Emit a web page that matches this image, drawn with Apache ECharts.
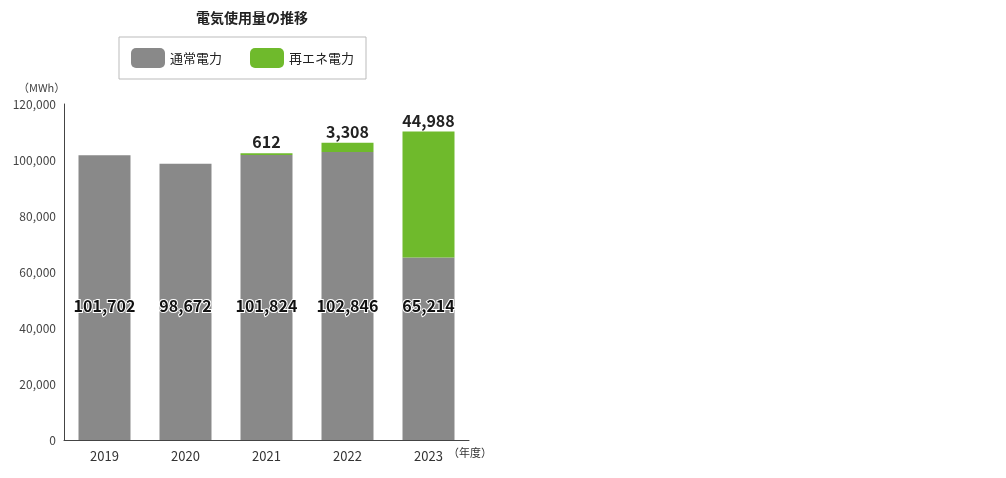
<!DOCTYPE html><html><head><meta charset="utf-8"><script src="https://cdn.jsdelivr.net/npm/echarts@6/dist/echarts.min.js"></script></head><body style="margin:0"><div id="c" style="width:1006px;height:478px"></div><script>
const categories=['2019','2020','2021','2022','2023'];
const normal=[101702,98672,101824,102846,65214];
const renewable=[null,null,612,3308,44988];
const yTicks=[0,20000,40000,60000,80000,100000,120000];
const F='"Noto Sans CJK JP","Noto Sans",sans-serif';
const fmt=v=>v.toLocaleString('en-US');
const c=echarts.init(document.getElementById('c'));
c.setOption({
 animation:false,
 title:{text:'電気使用量の推移',left:247,textAlign:'center',top:6,textStyle:{fontFamily:F,fontSize:14,fontWeight:'bold',color:'#222'}},
 legend:{left:119,top:37,width:254,height:42,padding:[11,12,11,12],itemGap:28,borderColor:'#bbb',borderWidth:1,itemWidth:34,itemHeight:20,textStyle:{fontFamily:F,fontSize:13,color:'#222'},data:['通常電力','再エネ電力']},
 grid:{left:64,top:104,width:405,height:336},
 xAxis:{type:'category',data:categories,axisLine:{lineStyle:{color:'#444'}},axisTick:{show:false},axisLabel:{fontFamily:F,fontSize:13,color:'#333',margin:10}},
 yAxis:{type:'value',min:0,max:120000,interval:20000,splitLine:{show:false},axisLine:{show:true,lineStyle:{color:'#444'}},axisTick:{show:false},axisLabel:{fontFamily:F,fontSize:12,color:'#444',formatter:v=>yTicks.includes(v)?fmt(v):''}},
 graphic:[{type:'text',left:18,top:82,style:{text:'（MWh）',font:'11px '+F,fill:'#444'}},
  {type:'text',left:448,top:447,style:{text:'（年度）',font:'11px '+F,fill:'#333'}}],
 series:[
  {name:'通常電力',type:'bar',stack:'a',barWidth:52,data:normal,itemStyle:{color:'#898989'},
   label:{show:true,position:'insideBottom',distance:126,formatter:p=>fmt(p.value),fontFamily:F,fontSize:16,fontWeight:'bold',color:'#111',textBorderColor:'#fff',textBorderWidth:2}},
  {name:'再エネ電力',type:'bar',stack:'a',barWidth:52,data:renewable,itemStyle:{color:'#6fba2c'},
   label:{show:true,position:'top',distance:3,formatter:p=>fmt(p.value),fontFamily:F,fontSize:16,fontWeight:'bold',color:'#222'}}
 ]});
</script></body></html>
